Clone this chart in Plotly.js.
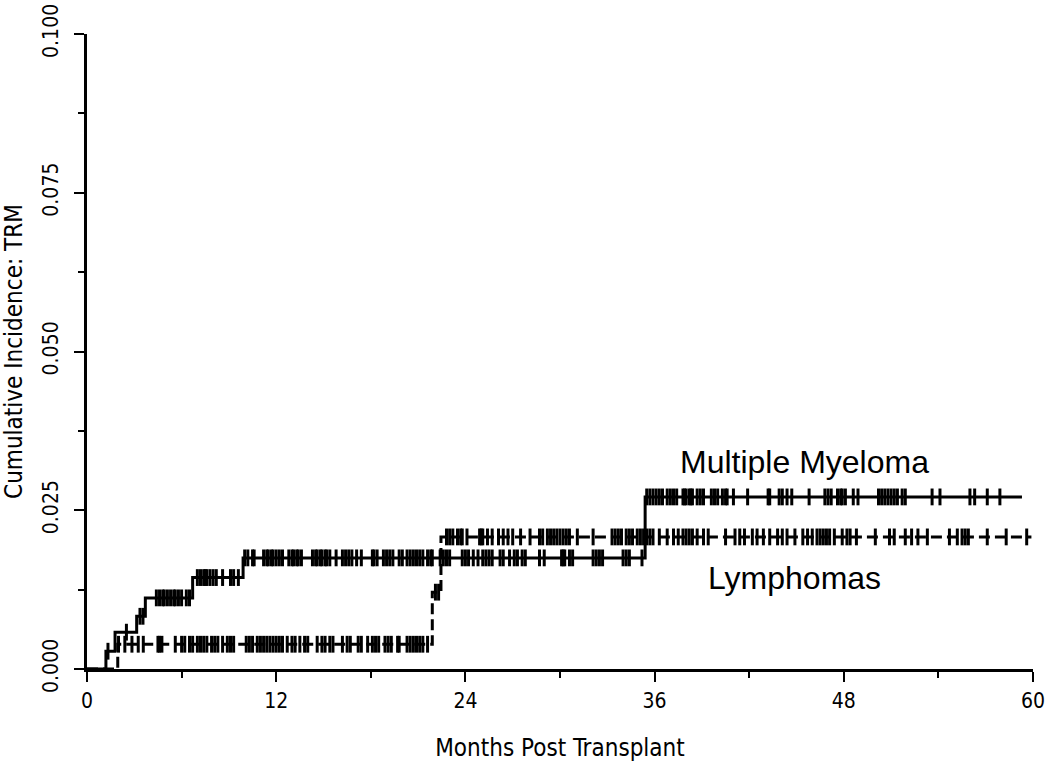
<!DOCTYPE html>
<html>
<head>
<meta charset="utf-8">
<script src="https://cdn.plot.ly/plotly-3.0.1.min.js"></script>
<style>
  html, body { margin: 0; padding: 0; background: #ffffff; }
  #chart { width: 1050px; height: 769px; }
</style>
</head>
<body>
<div id="chart"></div>
<script>
// ---- Data ----
// Multiple Myeloma: step times (months) and cumulative incidence after each step
const mmStepTimes = [0, 1.2, 1.78, 3.15, 3.7, 6.7, 9.9, 35.4, 59.3];
const mmStepValues = [0, 0.0028, 0.0058, 0.0083, 0.0112, 0.0144, 0.0175, 0.0271, 0.0271];
// Multiple Myeloma censor times (months)
const mmCensorTimes = [
  1.33, 2.5, 3.36, 3.55,
  4.4, 4.6, 4.8, 4.9, 5.1, 5.3, 5.5, 5.6, 5.8, 6.0, 6.3, 6.5,
  7.0, 7.2, 7.4, 7.5, 7.6, 7.8, 8.0, 8.2, 8.6, 9.1, 9.3, 9.6,
  10.0, 10.2, 10.5, 10.6, 11.2, 11.4, 11.5, 11.7, 11.8, 12.0, 12.2, 12.4,
  12.8, 13.0, 13.1, 13.3, 13.4, 13.6, 14.3, 14.5, 14.6, 14.8, 14.9, 15.1, 15.2,
  15.4, 15.8, 16.2, 16.4, 16.6, 16.8, 17.1, 17.4, 18.1, 18.2, 18.4,
  18.8, 19.0, 19.2, 19.4, 19.8, 20.0, 20.3, 20.5, 20.7, 20.9, 21.1, 21.3, 21.6, 21.8, 21.9,
  22.4, 22.6, 22.8, 23.0, 23.8, 24.0, 24.2, 24.5, 24.8, 25.1, 25.3, 25.5, 25.7,
  26.2, 26.4, 26.8, 27.1, 27.3, 27.6, 27.8, 28.7, 29.0, 30.1, 30.2, 30.3, 30.6, 30.8,
  32.1, 32.3, 32.5, 32.7, 34.0, 34.2, 34.4, 35.2,
  35.5, 35.7, 35.9, 36.1, 36.3, 36.5, 36.8, 37.0, 37.2, 37.4,
  37.8, 37.9, 38.0, 38.2, 38.3, 38.4, 38.7, 38.9, 39.1,
  39.6, 39.8, 40.0, 40.3, 40.5, 40.6, 41.0, 41.9, 43.2, 43.3,
  43.9, 44.1, 44.4, 44.7, 45.8, 46.8, 47.0, 47.2, 47.6, 47.8, 47.9, 48.1, 48.6, 48.9,
  50.2, 50.4, 50.6, 50.8, 51.0, 51.2, 51.4, 51.7, 51.9, 53.6, 54.1, 56.0, 56.3, 57.1, 57.9
];

// Lymphomas: step times (months) and cumulative incidence after each step
const lyStepTimes = [0, 1.95, 21.9, 22.45, 59.9];
const lyStepValues = [0, 0.0039, 0.0121, 0.0208, 0.0208];
// Lymphomas censor times (months)
const lyCensorTimes = [
  2.0, 2.4, 2.85, 3.25, 3.57, 4.5, 4.6, 4.75, 5.6, 6.0, 6.2, 6.5, 6.7, 7.0, 7.2, 7.4, 7.6,
  7.9, 8.1, 8.3, 8.6, 8.9, 9.1, 9.3, 10.1, 10.3, 10.5, 10.8, 11.0, 11.2, 11.4, 11.6, 11.8,
  12.0, 12.2, 12.4, 12.7, 13.0, 13.2, 13.5, 13.8, 14.0, 14.6, 14.9, 15.1, 15.4, 15.6,
  16.2, 16.5, 16.7, 17.2, 17.4, 17.8, 18.1, 18.3, 18.5, 18.9, 19.1, 19.3, 19.7, 19.8,
  20.3, 20.5, 20.7, 20.9, 21.1, 21.3, 21.6,
  22.1, 22.3,
  22.8, 23.0, 23.2, 23.5, 23.7, 23.8, 24.1, 24.9, 25.0, 25.1, 25.4, 25.7, 26.1, 26.4, 26.7, 27.0,
  27.5, 28.1, 28.7, 28.9, 29.2, 29.4, 29.6, 29.8, 30.0, 30.2, 30.4, 30.6, 31.1, 32.1,
  33.3, 33.5, 33.7, 33.9, 34.2, 34.4, 34.6, 34.9, 35.1,
  35.3, 35.5, 35.7, 35.9, 36.3, 36.8, 37.2, 37.5, 37.8, 38.0, 38.2, 38.4, 38.7, 39.1, 39.4,
  40.5, 41.1, 41.4, 41.7, 42.2, 42.5, 42.9, 43.3, 43.8, 44.1, 44.4, 44.9, 45.4, 45.7,
  46.0, 46.3, 46.5, 46.7, 46.9, 47.1, 47.4, 47.9, 48.2, 48.4, 48.8, 50.0, 50.9, 51.2,
  51.9, 52.3, 52.7, 53.3, 54.7, 55.2, 55.5, 55.7, 55.9, 57.1, 58.3, 59.6
];

// Axis ticks
const xTickVals = [0, 12, 24, 36, 48, 60];
const xTickText = ['0', '12', '24', '36', '48', '60'];
const yTickVals = [0, 0.025, 0.05, 0.075, 0.1];
const yTickText = ['0.000', '0.025', '0.050', '0.075', '0.100'];

const seriesNames = ['Multiple Myeloma', 'Lymphomas'];

// ---- helpers ----
function stepValueAt(times, values, t) {
  let v = values[0];
  for (let i = 0; i < times.length; i++) {
    if (times[i] <= t) v = values[i];
  }
  return v;
}

const axisFont = 'Liberation Sans Narrow, DejaVu Sans Condensed, Liberation Sans, Arial, sans-serif';
const labelFont = 'Liberation Sans, Arial, sans-serif';

const censorMarker = {
  symbol: 'line-ns-open', size: 12, color: '#000000',
  line: { color: '#000000', width: 3 }
};

const traces = [
  {
    x: mmStepTimes, y: mmStepValues, type: 'scatter', mode: 'lines',
    line: { shape: 'hv', color: '#000000', width: 3 },
    name: seriesNames[0], hoverinfo: 'skip'
  },
  {
    x: mmCensorTimes,
    y: mmCensorTimes.map(t => stepValueAt(mmStepTimes, mmStepValues, t)),
    type: 'scatter', mode: 'markers', marker: censorMarker,
    name: seriesNames[0] + ' censored', hoverinfo: 'skip'
  },
  {
    x: lyStepTimes, y: lyStepValues, type: 'scatter', mode: 'lines',
    line: { shape: 'hv', color: '#000000', width: 3, dash: '11px,5px' },
    name: seriesNames[1], hoverinfo: 'skip'
  },
  {
    x: lyCensorTimes,
    y: lyCensorTimes.map(t => stepValueAt(lyStepTimes, lyStepValues, t)),
    type: 'scatter', mode: 'markers', marker: censorMarker,
    name: seriesNames[1] + ' censored', hoverinfo: 'skip'
  }
];

const layout = {
  width: 1050, height: 769,
  margin: { l: 87, r: 17, t: 34, b: 100 },
  paper_bgcolor: '#ffffff', plot_bgcolor: '#ffffff',
  showlegend: false,
  xaxis: {
    range: [0, 60], tickmode: 'array', tickvals: xTickVals, ticktext: xTickText,
    ticks: 'outside', ticklen: 10, tickwidth: 2, tickcolor: '#000000',
    minor: { dtick: 6, tick0: 0, ticks: 'outside', ticklen: 6, tickwidth: 2, tickcolor: '#000000', showgrid: false },
    showline: true, linewidth: 3, linecolor: '#000000',
    showgrid: false, zeroline: false, fixedrange: true,
    tickfont: { family: axisFont, size: 21, color: '#000000' },
    ticklabelstandoff: 1,
    title: { text: 'Months Post Transplant', font: { family: axisFont, size: 24, color: '#000000' }, standoff: 27 }
  },
  yaxis: {
    range: [0, 0.1], tickmode: 'array', tickvals: yTickVals, ticktext: yTickText,
    ticks: 'outside', ticklen: 10, tickwidth: 2, tickcolor: '#000000',
    minor: { dtick: 0.0125, tick0: 0, ticks: 'outside', ticklen: 6, tickwidth: 2, tickcolor: '#000000', showgrid: false },
    showline: true, linewidth: 3, linecolor: '#000000',
    showgrid: false, zeroline: false, fixedrange: true,
    tickangle: -90,
    tickfont: { family: axisFont, size: 21, color: '#000000' },
    ticklabelstandoff: 8,
    title: { text: 'Cumulative Incidence: TRM', font: { family: axisFont, size: 24, color: '#000000' }, standoff: 14 }
  },
  annotations: [
    { x: 45.5, y: 0.0326, xref: 'x', yref: 'y', text: seriesNames[0], showarrow: false,
      font: { family: labelFont, size: 32, color: '#000000' } },
    { x: 44.9, y: 0.0143, xref: 'x', yref: 'y', text: seriesNames[1], showarrow: false,
      font: { family: labelFont, size: 32, color: '#000000' } }
  ]
};

Plotly.newPlot('chart', traces, layout, { displayModeBar: false, staticPlot: true });
</script>
</body>
</html>
